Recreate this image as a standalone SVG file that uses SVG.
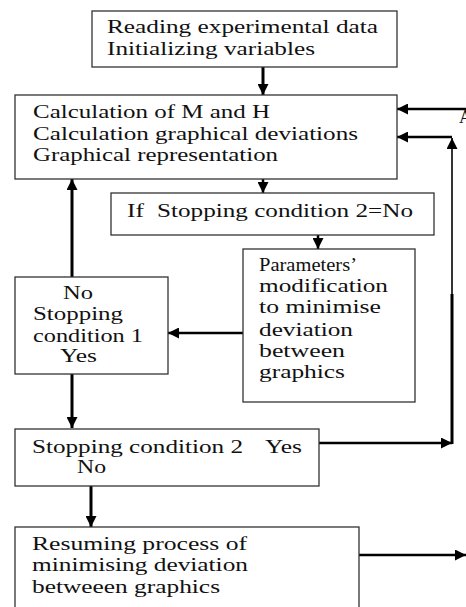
<svg xmlns="http://www.w3.org/2000/svg" width="466" height="607" viewBox="0 0 466 607">
<style>
.box{fill:#fff;stroke:#333;stroke-width:1.3}
.t{font-family:"Liberation Serif","Times New Roman",serif;font-size:18px;fill:#111}
.c{fill:none;stroke:#000;stroke-width:2.5}
.ck{fill:none;stroke:#000;stroke-width:3}
.cn{fill:none;stroke:#000;stroke-width:1.6}
</style>
<defs>
<marker id="ah" viewBox="0 0 10 10" refX="10" refY="5" markerWidth="12" markerHeight="11" markerUnits="userSpaceOnUse" orient="auto"><path d="M0,0 L10,5 L0,10 z" fill="#000"/></marker>
</defs>
<rect width="466" height="607" fill="#fff"/>
<g id="connectors">
<path class="ck" d="M263,67 V95" marker-end="url(#ah)"/>
<path class="c" d="M263,179 V193" marker-end="url(#ah)"/>
<path class="c" d="M318,235 V249" marker-end="url(#ah)"/>
<path class="c" d="M243,333 H168" marker-end="url(#ah)"/>
<path class="ck" d="M72,277 V179" marker-end="url(#ah)"/>
<path class="ck" d="M72,374 V428" marker-end="url(#ah)"/>
<path class="ck" d="M91,486 V527" marker-end="url(#ah)"/>
<path class="c" d="M359,555 H466" marker-end="url(#ah)"/>
<path class="c" d="M319,443 H452" marker-end="url(#ah)"/>
<path class="ck" d="M452,444 V294"/>
<path class="cn" d="M452,296 V138" marker-end="url(#ah)"/>
<path class="c" d="M452,137 H397" marker-end="url(#ah)"/>
<path class="c" d="M466,109 H397" marker-end="url(#ah)"/>
<text class="t" x="459" y="123">A</text>
</g>
<g id="n1">
<rect class="box" x="92" y="11" width="305" height="56"/>
<text class="t" x="107" y="33" textLength="271" lengthAdjust="spacingAndGlyphs">Reading experimental data</text>
<text class="t" x="107" y="55" textLength="208" lengthAdjust="spacingAndGlyphs">Initializing variables</text>
</g>
<g id="n2">
<rect class="box" x="15" y="95" width="382" height="84"/>
<text class="t" x="33" y="118" textLength="237" lengthAdjust="spacingAndGlyphs">Calculation of M and H</text>
<text class="t" x="33" y="140" textLength="325" lengthAdjust="spacingAndGlyphs">Calculation graphical deviations</text>
<text class="t" x="33" y="161" textLength="245" lengthAdjust="spacingAndGlyphs">Graphical representation</text>
</g>
<g id="n3">
<rect class="box" x="111" y="193" width="323" height="42"/>
<text class="t" y="217"><tspan x="127" textLength="17" lengthAdjust="spacingAndGlyphs">If</tspan><tspan x="157" textLength="256" lengthAdjust="spacingAndGlyphs">Stopping condition 2=No</tspan></text>
</g>
<g id="n4">
<rect class="box" x="243" y="249" width="172" height="153"/>
<text class="t" x="259" y="271" textLength="98" lengthAdjust="spacingAndGlyphs">Parameters’</text>
<text class="t" x="259" y="292" textLength="129" lengthAdjust="spacingAndGlyphs">modification</text>
<text class="t" x="259" y="313" textLength="122" lengthAdjust="spacingAndGlyphs">to minimise</text>
<text class="t" x="259" y="336" textLength="94" lengthAdjust="spacingAndGlyphs">deviation</text>
<text class="t" x="259" y="357" textLength="86" lengthAdjust="spacingAndGlyphs">between</text>
<text class="t" x="259" y="378" textLength="86" lengthAdjust="spacingAndGlyphs">graphics</text>
</g>
<g id="n5">
<rect class="box" x="15" y="277" width="153" height="97"/>
<text class="t" x="63" y="299" textLength="30" lengthAdjust="spacingAndGlyphs">No</text>
<text class="t" x="33" y="320" textLength="90" lengthAdjust="spacingAndGlyphs">Stopping</text>
<text class="t" x="33" y="342" textLength="110" lengthAdjust="spacingAndGlyphs">condition 1</text>
<text class="t" x="60" y="362" textLength="37" lengthAdjust="spacingAndGlyphs">Yes</text>
</g>
<g id="n6">
<rect class="box" x="15" y="429" width="304" height="57"/>
<text class="t" y="453"><tspan x="32" textLength="211" lengthAdjust="spacingAndGlyphs">Stopping condition 2</tspan><tspan x="265" textLength="37" lengthAdjust="spacingAndGlyphs">Yes</tspan></text>
<text class="t" x="77" y="473" textLength="29" lengthAdjust="spacingAndGlyphs">No</text>
</g>
<g id="n7">
<rect class="box" x="15" y="527" width="344" height="100"/>
<text class="t" x="32" y="550" textLength="215" lengthAdjust="spacingAndGlyphs">Resuming process of</text>
<text class="t" x="32" y="571" textLength="216" lengthAdjust="spacingAndGlyphs">minimising deviation</text>
<text class="t" x="32" y="593" textLength="188" lengthAdjust="spacingAndGlyphs">betweeen graphics</text>
</g>
</svg>
